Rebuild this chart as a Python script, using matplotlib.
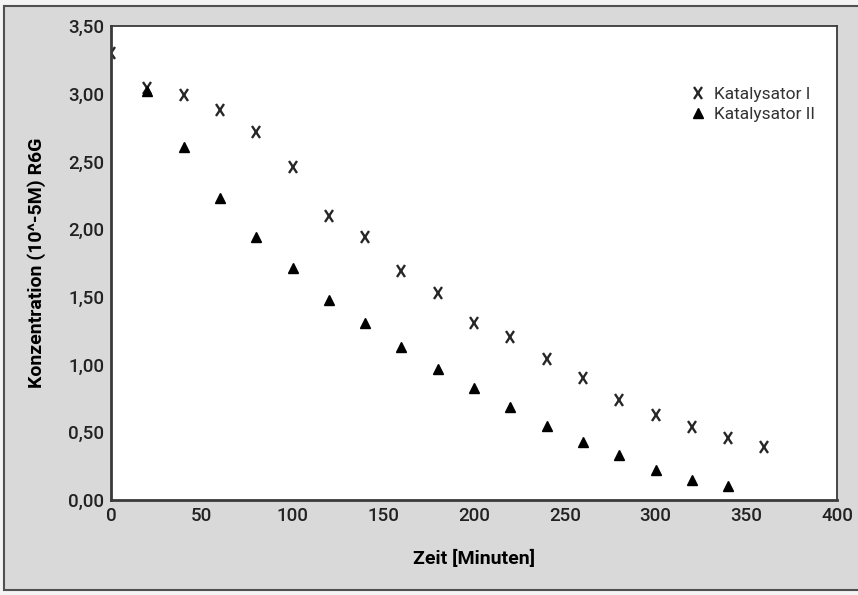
import numpy as np
import matplotlib
matplotlib.use('Agg')
import matplotlib.pyplot as plt
from matplotlib.markers import MarkerStyle
from matplotlib.transforms import Affine2D
from matplotlib.patches import Rectangle
from matplotlib.ticker import FuncFormatter

plt.rcParams['font.family'] = ['Roboto', 'DejaVu Sans']

zeit = [0, 20, 40, 60, 80, 100, 120, 140, 160, 180, 200, 220, 240,
        260, 280, 300, 320, 340, 360]
kat_1 = [3.30, 3.04, 2.99, 2.88, 2.72, 2.46, 2.10, 1.94, 1.69, 1.53, 1.31,
         1.20, 1.04, 0.90, 0.74, 0.63, 0.54, 0.46, 0.39]
zeit_2 = [20, 40, 60, 80, 100, 120, 140, 160, 180, 200, 220, 240,
          260, 280, 300, 320, 340]
kat_2 = [3.02, 2.61, 2.23, 1.94, 1.71, 1.48, 1.31, 1.13, 0.97, 0.83,
         0.69, 0.55, 0.43, 0.33, 0.22, 0.15, 0.10]

W, H = 858, 595
bg = '#d9d9d9'
fig = plt.figure(figsize=[W/100, H/100], dpi=100, facecolor='#f4f4f4')

# grey panel with dark frame (runs past the right edge)
fig.patches.append(Rectangle((4/W, 1 - 590/H), 870/W, 584/H, transform=fig.transFigure,
                             facecolor=bg, edgecolor='#505050', linewidth=1.5, zorder=-5))

ax = fig.add_axes([111/W, 1 - 500/H, (837-111)/W, (500-26)/H])
ax.set_zorder(2)
ax.set_facecolor('white')

x_marker = MarkerStyle('x', transform=Affine2D().scale(0.65, 1.0))
ax.plot(zeit, kat_1, linestyle='none', marker=x_marker, markersize=8.5,
        markeredgewidth=1.7, color='#262626', label='Katalysator I')
ax.plot(zeit_2, kat_2, linestyle='none', marker='^', markersize=7,
        color='black', label='Katalysator II')

ax.set_xlim(0, 400)
ax.set_ylim(0, 3.5)
ax.set_xticks(np.arange(0, 401, 50))
ax.set_yticks(np.arange(0, 3.51, 0.5))
ax.yaxis.set_major_formatter(FuncFormatter(lambda v, p: f'{v:.2f}'.replace('.', ',')))
ax.tick_params(length=0, labelsize=13.5, labelcolor='#222222', pad=5)
for lbl in ax.get_xticklabels() + ax.get_yticklabels():
    lbl.set_fontweight('medium')

for side, spine in ax.spines.items():
    spine.set_color('#3a3a3a')
    spine.set_linewidth(2 if side in ('left', 'bottom') else 1.3)

ax.set_xlabel('Zeit [Minuten]', fontsize=14, fontweight='bold', va='center')
ax.xaxis.set_label_coords(0.5, (500-559)/474)
ax.set_ylabel('Konzentration (10^-5M) R6G', fontsize=14, fontweight='bold', va='center')
ax.yaxis.set_label_coords((37-111)/726, 0.5)

leg = ax.legend(loc='upper left', bbox_to_anchor=(0.797, 0.872), frameon=False,
                fontsize=12.5, handletextpad=0.4, borderpad=0, labelspacing=0.3,
                handlelength=1.0, borderaxespad=0)
for t in leg.get_texts():
    t.set_color('#333333')

fig.savefig('out.png', dpi=100)
plt.close(fig)
